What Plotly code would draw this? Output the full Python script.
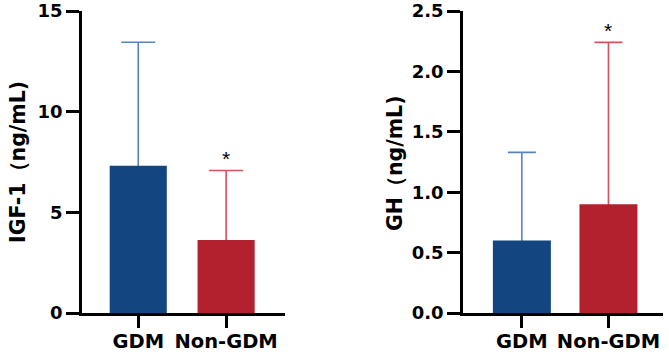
import plotly.graph_objects as go

categories = ["GDM", "Non-GDM"]
igf1_mean = [7.31, 3.63]
igf1_sd = [6.14, 3.45]
gh_mean = [0.60, 0.90]
gh_sd = [0.73, 1.34]
igf1_ticks = [0, 5, 10, 15]
gh_ticks = [0.0, 0.5, 1.0, 1.5, 2.0, 2.5]
bar_colors = ["#134580", "#B3212E"]
err_colors = ["#5585BC", "#D4505E"]

FONT = "DejaVu Sans"

fig = go.Figure()

panels = [
    dict(mean=igf1_mean, sd=igf1_sd, xa="x", ya="y", yb="y3", w=0.65, cap=17),
    dict(mean=gh_mean, sd=gh_sd, xa="x2", ya="y2", yb="y4", w=0.67, cap=14),
]
for p in panels:
    for i, cat in enumerate(categories):
        # error bar (upper part only visible; lower part hidden under the bar)
        fig.add_trace(go.Scatter(
            x=[cat], y=[p["mean"][i]], mode="markers",
            marker=dict(size=1, opacity=0),
            error_y=dict(type="data", symmetric=False, array=[p["sd"][i]],
                         arrayminus=[p["mean"][i] * 0.5],
                         color=err_colors[i], thickness=1.6, width=p["cap"]),
            xaxis=p["xa"], yaxis=p["ya"], showlegend=False, hoverinfo="skip"))
        fig.add_trace(go.Bar(
            x=[cat], y=[p["mean"][i]], width=p["w"],
            marker=dict(color=bar_colors[i], line=dict(width=0)),
            xaxis=p["xa"], yaxis=p["yb"], showlegend=False))

axis_common = dict(showline=True, linecolor="black", linewidth=2.5, ticks="outside",
                   tickcolor="black", tickwidth=2.5, showgrid=False, zeroline=False,
                   automargin=False,
                   tickfont=dict(family=FONT, size=18, color="black", weight="bold"))

ydom = [42/355, 344/355]
fig.update_layout(
    width=669, height=355,
    margin=dict(l=0, r=0, t=0, b=0),
    paper_bgcolor="white", plot_bgcolor="white",
    barmode="overlay",
    xaxis=dict(domain=[82/669, 285/669], range=[-0.64, 1.67], ticklen=12,
               ticklabelstandoff=-3, anchor="y", **axis_common),
    yaxis=dict(domain=ydom, range=[0, 15], tickvals=igf1_ticks,
               ticklen=13, anchor="x", **axis_common),
    yaxis3=dict(domain=ydom, range=[0, 15], overlaying="y", visible=False, automargin=False),
    xaxis2=dict(domain=[463/669, 663/669], range=[-0.68, 1.63], ticklen=12,
                ticklabelstandoff=-3, anchor="y2", **axis_common),
    yaxis2=dict(domain=ydom, range=[0, 2.5], tickvals=gh_ticks,
                tickformat=".1f", ticklen=13, anchor="x2", **axis_common),
    yaxis4=dict(domain=ydom, range=[0, 2.5], overlaying="y2", visible=False, automargin=False),
)
fig.update_xaxes(tickfont=dict(size=19.5))

fig.add_annotation(text="IGF-1（ng/mL)", textangle=-90, x=18/669, y=(355-162)/355,
                   xref="paper", yref="paper", xanchor="center", yanchor="middle",
                   showarrow=False,
                   font=dict(family=FONT, size=20.5, color="black", weight="bold"))
fig.add_annotation(text="GH（ng/mL)", textangle=-90, x=395/669, y=(355-163)/355,
                   xref="paper", yref="paper", xanchor="center", yanchor="middle",
                   showarrow=False,
                   font=dict(family=FONT, size=20.5, color="black", weight="bold"))

fig.add_annotation(text="*", x=categories[1], y=igf1_mean[1] + igf1_sd[1], xref="x", yref="y",
                   yshift=12, showarrow=False, font=dict(family="Liberation Sans", size=21, color="black"))
fig.add_annotation(text="*", x=categories[1], y=gh_mean[1] + gh_sd[1], xref="x2", yref="y2",
                   yshift=12, showarrow=False, font=dict(family="Liberation Sans", size=21, color="black"))

fig.write_html("out.html", config={"displayModeBar": False},
               post_script="document.body.style.margin='0px';")
